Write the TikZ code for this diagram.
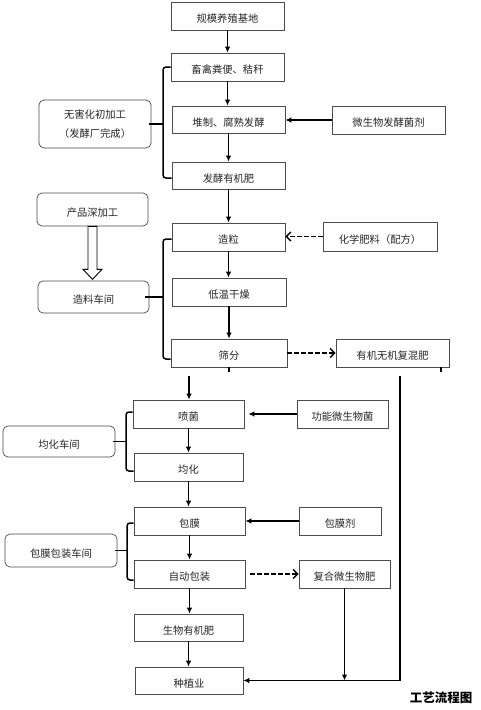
\documentclass[tikz,border=0pt]{standalone}
\usepackage{fontspec}
\setmainfont{Noto Sans CJK SC}
\usetikzlibrary{arrows.meta,calc}
\begin{document}
\begin{tikzpicture}[x=1pt,y=-1pt,
  base/.style={draw=black!70, line width=0.7pt, rectangle, inner sep=0pt,
    font=\fontsize{10.3}{19}\selectfont, text=black!85},
  box/.style={base, text height=1.3em, text depth=0pt},
  grp/.style={base, rounded corners=5pt},
  grpl/.style={grp, text height=1.3em, text depth=0pt},
  con/.style={line width=1.5pt, -{Latex[length=6pt,width=5.5pt]}},
  dcon/.style={line width=1.5pt, dash pattern=on 4.5pt off 2.5pt, -{Straight Barb[length=4.5pt,width=9pt]}},
  brk/.style={line width=1.5pt, rounded corners=3pt},
  ln/.style={line width=1.5pt},
]
\useasboundingbox (0,0) rectangle (481,710);
\fill[white] (0,0) rectangle (481,710);

% main column
\node[box, minimum width=113, minimum height=28] (n1) at (227.5,16) {规模养殖基地};
\node[box, minimum width=113, minimum height=28] (n2) at (227.5,67) {畜禽粪便、秸秆};
\node[box, minimum width=113, minimum height=27] (n3) at (228.5,119.5) {堆制、腐熟发酵};
\node[box, minimum width=113, minimum height=28] (n3b) at (388.5,120) {微生物发酵菌剂};
\node[box, minimum width=113, minimum height=27] (n4) at (228.5,175.5) {发酵有机肥};
\node[box, minimum width=113, minimum height=28] (n5) at (228.5,237) {造粒};
\node[box, minimum width=114, minimum height=29] (n5b) at (380,236.5) {化学肥料（配方）};
\node[box, minimum width=114, minimum height=28] (n6) at (229,292) {低温干燥};
\node[box, minimum width=116, minimum height=28] (n7) at (229,353) {筛分};
\node[box, minimum width=113, minimum height=28] (n7b) at (392.5,353) {有机无机复混肥};
\node[box, minimum width=111, minimum height=28] (n8) at (188.5,414) {喷菌};
\node[box, minimum width=91, minimum height=28] (n8b) at (342.5,414) {功能微生物菌};
\node[box, minimum width=109, minimum height=28] (n9) at (188.5,467) {均化};
\node[box, minimum width=111, minimum height=28] (n10) at (189.5,521) {包膜};
\node[box, minimum width=82, minimum height=28] (n10b) at (340,521) {包膜剂};
\node[box, minimum width=111, minimum height=28] (n11) at (189.5,574) {自动包装};
\node[box, minimum width=91, minimum height=28] (n11b) at (344.5,574) {复合微生物肥};
\node[box, minimum width=109, minimum height=27] (n12) at (188.5,627.5) {生物有机肥};
\node[box, minimum width=108, minimum height=27] (n13) at (189,680.5) {种植业};

% group labels
\node[grp, align=center, minimum width=112, minimum height=48] (g1) at (95,124) {无害化初加工\\（发酵厂完成）};
\node[grpl, minimum width=111, minimum height=33] (g2) at (92.5,209.5) {产品深加工};
\node[grpl, minimum width=111, minimum height=32] (g3) at (93.5,297) {造料车间};
\node[grpl, minimum width=112, minimum height=31] (g4) at (59,441.5) {均化车间};
\node[grpl, minimum width=112, minimum height=33] (g5) at (61,550.5) {包膜包装车间};

\node[font=\fontsize{12.5}{14}\selectfont\bfseries, inner sep=0pt] (title) at (441,698) {工艺流程图};

% main flow
\draw[con] (n1.south) -- (n2.north);
\draw[con] (n2.south) -- (n2.south |- n3.north);
\draw[con] (n3.south) -- (n4.north);
\draw[con] (n3b.west) -- (n3b.west -| n3.east);
\draw[con] (n4.south) -- (n5.north);
\draw[dcon] (n5b.west) -- (n5b.west -| n5.east);
\draw[con] (n5.south) -- (n5.south |- n6.north);
\draw[con] (n6.south) -- (n7.north);
\draw[dcon] (n7.east) -- (n7b.west);

% stubs below screening
\coordinate (st1) at (441,367);
\draw[ln] (n7.south) -- ++(0,5);
\draw[ln] (st1) -- ++(0,5);

\coordinate (a1) at (189,376);
\coordinate (b1) at (400,376);
\draw[con] (a1) -- (a1 |- n8.north);
\draw[con] (b1) |- (n13.east);

\draw[con, shorten >=4pt] (n8b.west) -- (n8b.west -| n8.east);
\draw[con] (n8.south) -- (n8.south |- n9.north);
\draw[con] (n9.south) -- (n9.south |- n10.north);
\draw[con] (n10b.west) -- (n10b.west -| n10.east);
\draw[con] (n10.south) -- (n11.north);
\draw[dcon, shorten <=5pt] (n11.east) -- (n11b.west);
\draw[con] (n11.south) -- (n11.south |- n12.north);
\draw[con] (n12.south) -- (n12.south |- n13.north);
\draw[con] (n11b.south) -- (n11b.south |- n13.east);

% hollow arrow
\draw[line width=0.9pt, fill=white] ($(g2.south)+(-4.5,0)$) -- ++(0,43) -- ++(-5,0) -- ++(9.5,10) -- ++(9.5,-10) -- ++(-5,0) -- ++(0,-43) -- cycle;

% brackets
\coordinate (s1) at (163,123);
\coordinate (s2) at (163,297);
\coordinate (s3) at (126,441.5);
\coordinate (s4) at (127,550.5);
\draw[brk] (n2.west) -| (s1) |- ($(n4.west)+(0,2.5)$);
\draw[ln] ($(g1.east)+(-2,0)$) -- (g1.east -| s1);
\draw[brk] ($(n5.west)+(0,2)$) -| (s2) |- ($(n7.west)+(0,6)$);
\draw[ln] ($(g3.east)+(-4,0)$) -- (g3.east -| s2);
\draw[brk] ($(n8.west)+(0,-2)$) -| (s3) |- ($(n9.west)+(0,4)$);
\draw[ln] ($(g4.east)+(-2,0)$) -- (g4.east -| s3);
\draw[brk] ($(n10.west)+(0,2)$) -| (s4) |- ($(n11.west)+(0,6)$);
\draw[ln] ($(g5.east)+(-2,0)$) -- (g5.east -| s4);
\end{tikzpicture}
\end{document}
